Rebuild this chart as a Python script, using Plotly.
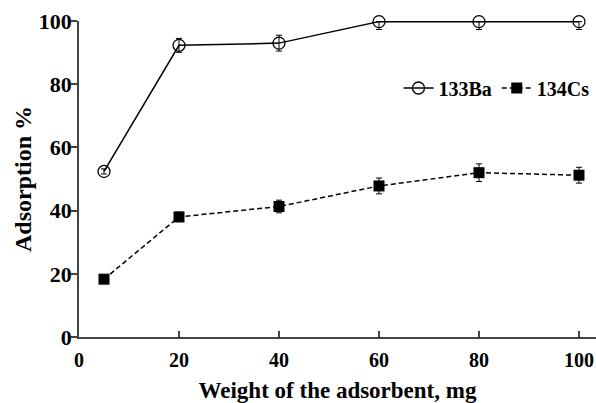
import plotly.graph_objects as go

weights = [5, 20, 40, 60, 80, 100]
ba_values = [52.4, 92.3, 93.0, 99.8, 99.8, 99.8]
ba_err_plus = [0.8, 2.2, 2.5, 0, 0, 0]
ba_err_minus = [0.8, 2.2, 2.5, 2.5, 2.5, 2.5]
cs_values = [18.3, 38.0, 41.3, 47.8, 52.0, 51.2]
cs_err = [0.8, 1.5, 2.0, 2.5, 2.8, 2.5]

x_ticks = [0, 20, 40, 60, 80, 100]
y_ticks = [0, 20, 40, 60, 80, 100]

font_family = "Liberation Serif"

fig = go.Figure()
fig.add_trace(go.Scatter(
    x=weights, y=ba_values, name="133Ba", mode="lines+markers",
    line=dict(color="black", width=1.5, dash="solid"),
    marker=dict(symbol="circle-open", size=12, color="black", line=dict(width=1.3)),
    error_y=dict(type="data", symmetric=False, array=ba_err_plus, arrayminus=ba_err_minus,
                 color="black", thickness=1, width=3),
    cliponaxis=False, legend="legend",
))
fig.add_trace(go.Scatter(
    x=weights, y=cs_values, name="134Cs", mode="lines+markers",
    line=dict(color="black", width=1.5, dash="5px,3px"),
    marker=dict(symbol="square", size=11, color="black"),
    error_y=dict(type="data", array=cs_err, color="black", thickness=1, width=3),
    cliponaxis=False, legend="legend2",
))

legend_font = dict(family=font_family, size=20, color="black", weight="bold")

fig.update_layout(
    width=596, height=403,
    margin=dict(l=79, r=0, t=21, b=66, autoexpand=False),
    paper_bgcolor="white", plot_bgcolor="white",
    font=dict(family=font_family, size=20, color="black"),
    showlegend=True,
    legend=dict(
        x=0.618, y=0.788, xanchor="left", yanchor="middle",
        font=legend_font, bgcolor="rgba(0,0,0,0)", itemwidth=30,
    ),
    legend2=dict(
        x=0.808, y=0.788, xanchor="left", yanchor="middle",
        font=legend_font, bgcolor="rgba(0,0,0,0)", itemwidth=30,
    ),
    xaxis=dict(
        range=[0, 103.4], tickvals=x_ticks, ticktext=[str(v) for v in x_ticks],
        showgrid=False, zeroline=False, showline=True, linecolor="#444", linewidth=1.5,
        ticks="inside", ticklen=6, tickcolor="#444", tickwidth=1.5, automargin=False,
        ticklabelstandoff=4,
        tickfont=dict(family=font_family, size=20, color="black", weight="bold"),
        title=dict(text="Weight of the adsorbent, mg", standoff=22,
                   font=dict(family=font_family, size=23, color="black", weight="bold")),
    ),
    yaxis=dict(
        range=[0, 100], tickvals=y_ticks, ticktext=[str(v) for v in y_ticks],
        showgrid=False, zeroline=False, showline=True, linecolor="#444", linewidth=1.5,
        ticks="outside", ticklen=6, tickcolor="#444", tickwidth=1.5, automargin=False,
        ticklabelstandoff=-5,
        tickfont=dict(family=font_family, size=22, color="black", weight="bold"),
        title=dict(text="Adsorption %", standoff=0,
                   font=dict(family=font_family, size=24, color="black", weight="bold")),
    ),
)

fig.write_html(
    "out.html",
    config={"displayModeBar": False},
    post_script="document.body.style.margin='0';document.documentElement.style.overflow='hidden';",
)
